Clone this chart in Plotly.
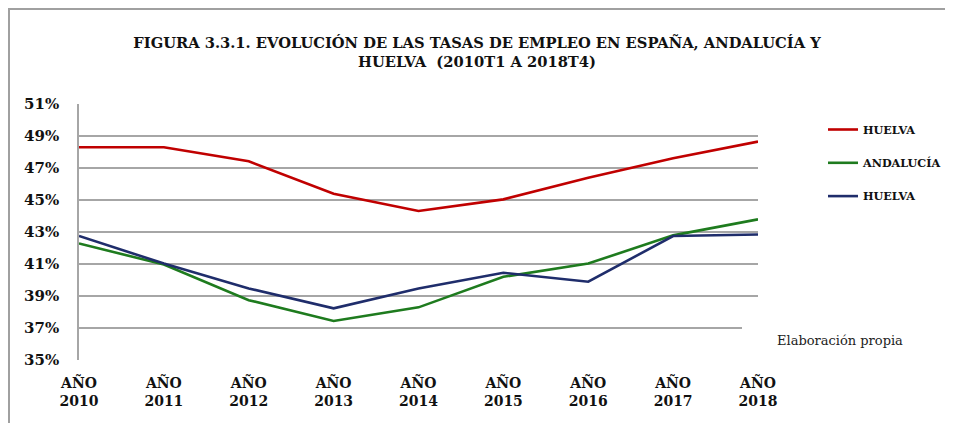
import plotly.graph_objects as go

years = ["2010", "2011", "2012", "2013", "2014", "2015", "2016", "2017", "2018"]
x_labels = ["AÑO<br>" + y for y in years]

huelva_top = [48.30, 48.30, 47.42, 45.39, 44.31, 45.04, 46.39, 47.61, 48.65]
andalucia = [42.28, 40.97, 38.74, 37.44, 38.29, 40.20, 41.03, 42.79, 43.79]
huelva_bottom = [42.75, 41.03, 39.47, 38.23, 39.47, 40.45, 39.89, 42.75, 42.84]

series_names = ["HUELVA", "ANDALUCÍA", "HUELVA"]
series_colors = ["#C00000", "#1E7B1E", "#1F2D6B"]

y_ticks = [35, 37, 39, 41, 43, 45, 47, 49, 51]
y_ticktext = [f"{v}%" for v in y_ticks]

title_text = ("FIGURA 3.3.1. EVOLUCIÓN DE LAS TASAS DE EMPLEO EN ESPAÑA, ANDALUCÍA Y<br>"
              "HUELVA  (2010T1 A 2018T4)")
note_text = "Elaboración propia"

OFF = 8  # page offset of the figure inside the html body
W, H = 953 - OFF, 423 - OFF
# target positions in page pixels
PL, PR, PT, PB = 79, 758, 104, 360
L, T = PL - OFF, PT - OFF
R, B = W - (PR - OFF), H - (PB - OFF)
pw, ph = W - L - R, H - T - B

def px_x(px):
    return (px - OFF - L) / pw

def px_y(py):
    return (H - B - (py - OFF)) / ph

serif = "DejaVu Serif"

fig = go.Figure()
for i, (vals, name, color) in enumerate(zip([huelva_top, andalucia, huelva_bottom], series_names, series_colors)):
    fig.add_trace(go.Scatter(
        x=x_labels, y=vals, mode="lines", name=name,
        line=dict(color=color, width=2.6),
        legendgroup=f"g{i}",
    ))

fig.update_layout(
    width=W, height=H,
    margin=dict(l=L, r=R, t=T, b=B, autoexpand=False),
    paper_bgcolor="white", plot_bgcolor="white",
    title=dict(text=title_text, x=(477 - OFF) / W, xref="container", xanchor="center",
               y=1 - 40 / H, yref="container", yanchor="top",
               font=dict(family=serif, size=14.7, color="#111", weight="bold")),
    showlegend=True,
    legend=dict(x=px_x(823), xanchor="left", y=px_y(115), yanchor="top",
                font=dict(family=serif, size=11.2, color="#111", weight="bold"),
                traceorder="grouped", tracegroupgap=14.3, bgcolor="rgba(0,0,0,0)"),
    xaxis=dict(range=[0, 8], showgrid=False, showline=False, zeroline=False,
               tickfont=dict(family=serif, size=14, color="#111", weight="bold"),
               ticks="", ticklabelstandoff=13, automargin=False, fixedrange=True),
    yaxis=dict(range=[35, 51], tickvals=y_ticks, ticktext=y_ticktext,
               showgrid=True, gridcolor="#A6A6A6", gridwidth=1.5,
               showline=True, linecolor="#A6A6A6", linewidth=1.5,
               zeroline=False, ticks="", ticklabelstandoff=15, automargin=False,
               tickfont=dict(family=serif, size=15, color="#111", weight="bold")),
)

# outer frame
fig.add_shape(type="rect", xref="paper", yref="paper",
              x0=px_x(9), x1=px_x(1200), y0=px_y(700), y1=px_y(9),
              line=dict(color="#A0A0A0", width=2), fillcolor="rgba(0,0,0,0)", layer="below")
# text box that hides part of the 37% gridline
fig.add_shape(type="rect", xref="paper", yref="paper",
              x0=px_x(742), x1=px_x(762), y0=px_y(336), y1=px_y(320),
              line=dict(width=0), fillcolor="white", layer="above")

fig.add_annotation(text=note_text, xref="paper", yref="paper",
                   x=px_x(775), y=px_y(340), xanchor="left", yanchor="middle",
                   showarrow=False, font=dict(family=serif, size=13, color="#222"))

fig.write_html("out.html")
